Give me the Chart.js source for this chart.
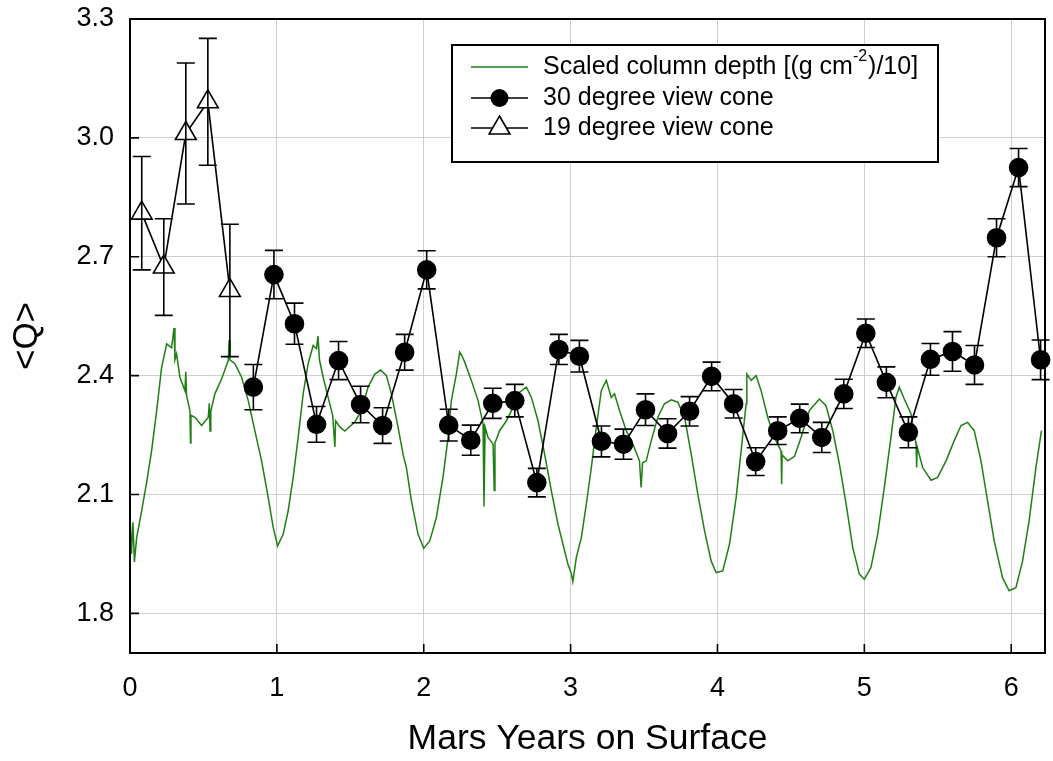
<!DOCTYPE html>
<html>
<head>
<meta charset="utf-8">
<script src="https://cdn.jsdelivr.net/npm/chart.js@4.4.1/dist/chart.umd.min.js"></script>
<style>
html, body { margin: 0; padding: 0; background: #fff; }
#wrap { width: 1053px; height: 761px; position: relative; }
</style>
</head>
<body>
<div id="wrap"><canvas id="chart-q"></canvas></div>
<script>
var yearTicks = [0, 1, 2, 3, 4, 5, 6];
var qTicks = [1.8, 2.1, 2.4, 2.7, 3.0, 3.3];

// 19 degree view cone (triangles)
var cone19Year = [0.08, 0.23, 0.38, 0.53, 0.68];
var cone19Q = [2.810, 2.674, 3.011, 3.091, 2.615];
var cone19Err = [0.143, 0.122, 0.178, 0.160, 0.167];

// 30 degree view cone (circles)
var cone30Year = [0.84, 0.98, 1.12, 1.27, 1.42, 1.57, 1.72, 1.87, 2.02, 2.17, 2.32, 2.47, 2.62,
    2.77, 2.92, 3.06, 3.21, 3.36, 3.51, 3.66, 3.81, 3.96, 4.11, 4.26, 4.41, 4.56, 4.71, 4.86,
    5.01, 5.15, 5.30, 5.45, 5.60, 5.75, 5.90, 6.05, 6.20];
var cone30Q = [2.371, 2.655, 2.531, 2.277, 2.438, 2.327, 2.274, 2.459, 2.667, 2.275, 2.237, 2.330, 2.337,
    2.130, 2.466, 2.449, 2.234, 2.227, 2.314, 2.254, 2.310, 2.398, 2.329, 2.183, 2.261, 2.292, 2.244, 2.354,
    2.507, 2.383, 2.257, 2.441, 2.461, 2.427, 2.748, 2.925, 2.440];
var cone30Err = [0.057, 0.061, 0.052, 0.045, 0.048, 0.046, 0.045, 0.045, 0.048, 0.040, 0.038, 0.038, 0.041,
    0.036, 0.038, 0.040, 0.039, 0.038, 0.040, 0.037, 0.037, 0.036, 0.036, 0.035, 0.035, 0.036, 0.038, 0.037,
    0.036, 0.039, 0.039, 0.040, 0.050, 0.049, 0.048, 0.048, 0.050];

// scaled column depth (green trace)
var depthYear = [0.000, 0.010, 0.020, 0.030, 0.045, 0.080, 0.113, 0.147, 0.181, 0.215, 0.250, 0.283, 0.300, 0.306,
    0.317, 0.340, 0.374, 0.380, 0.385, 0.408, 0.412, 0.415, 0.442, 0.488, 0.533, 0.540, 0.545, 0.550, 0.578,
    0.624, 0.669, 0.675, 0.680, 0.714, 0.760, 0.805, 0.850, 0.896, 0.941, 0.975, 1.005, 1.043, 1.077, 1.111,
    1.145, 1.179, 1.213, 1.247, 1.270, 1.280, 1.290, 1.315, 1.349, 1.380, 1.395, 1.400, 1.430, 1.463, 1.531,
    1.576, 1.621, 1.667, 1.707, 1.746, 1.780, 1.825, 1.860, 1.882, 1.916, 1.961, 2.000, 2.041, 2.086, 2.131,
    2.166, 2.188, 2.222, 2.245, 2.260, 2.279, 2.324, 2.370, 2.404, 2.410, 2.418, 2.438, 2.472, 2.480, 2.485,
    2.517, 2.563, 2.608, 2.653, 2.699, 2.733, 2.778, 2.823, 2.869, 2.914, 2.959, 2.982, 3.005, 3.015, 3.039,
    3.073, 3.107, 3.141, 3.175, 3.209, 3.243, 3.277, 3.299, 3.333, 3.379, 3.424, 3.469, 3.480, 3.490, 3.515,
    3.549, 3.594, 3.639, 3.685, 3.730, 3.776, 3.821, 3.866, 3.912, 3.957, 3.991, 4.036, 4.082, 4.127, 4.161,
    4.195, 4.200, 4.229, 4.263, 4.297, 4.342, 4.388, 4.433, 4.437, 4.440, 4.478, 4.524, 4.569, 4.626, 4.694,
    4.739, 4.785, 4.830, 4.876, 4.921, 4.966, 5.000, 5.045, 5.091, 5.136, 5.181, 5.215, 5.238, 5.272, 5.318,
    5.352, 5.356, 5.360, 5.397, 5.454, 5.499, 5.556, 5.612, 5.658, 5.703, 5.748, 5.794, 5.839, 5.884, 5.941,
    5.986, 6.032, 6.077, 6.122, 6.168, 6.206];
var depthQ = [2.050, 1.950, 2.030, 1.930, 1.990, 2.060, 2.130, 2.210, 2.310, 2.420, 2.480, 2.470, 2.520, 2.440,
    2.455, 2.396, 2.362, 2.410, 2.350, 2.312, 2.230, 2.300, 2.295, 2.274, 2.295, 2.330, 2.260, 2.310, 2.354,
    2.392, 2.438, 2.490, 2.440, 2.430, 2.396, 2.337, 2.261, 2.185, 2.092, 2.017, 1.970, 2.000, 2.059, 2.143,
    2.244, 2.354, 2.430, 2.476, 2.468, 2.500, 2.440, 2.396, 2.345, 2.300, 2.220, 2.286, 2.270, 2.260, 2.283,
    2.312, 2.371, 2.404, 2.414, 2.400, 2.354, 2.270, 2.200, 2.168, 2.084, 2.000, 1.964, 1.983, 2.042, 2.143,
    2.244, 2.337, 2.404, 2.459, 2.450, 2.434, 2.388, 2.337, 2.278, 2.070, 2.270, 2.244, 2.227, 2.110, 2.230,
    2.261, 2.286, 2.320, 2.358, 2.371, 2.345, 2.286, 2.202, 2.109, 2.025, 1.958, 1.924, 1.900, 1.880, 1.941,
    1.991, 2.076, 2.168, 2.270, 2.362, 2.388, 2.345, 2.354, 2.312, 2.261, 2.227, 2.185, 2.118, 2.180, 2.185,
    2.236, 2.295, 2.329, 2.339, 2.333, 2.295, 2.202, 2.101, 2.008, 1.932, 1.903, 1.907, 1.975, 2.092, 2.210,
    2.329, 2.404, 2.388, 2.400, 2.362, 2.295, 2.244, 2.210, 2.126, 2.200, 2.185, 2.196, 2.244, 2.312, 2.341,
    2.324, 2.261, 2.177, 2.076, 1.966, 1.899, 1.886, 1.916, 2.000, 2.118, 2.244, 2.345, 2.371, 2.341, 2.303,
    2.227, 2.168, 2.220, 2.168, 2.136, 2.143, 2.185, 2.236, 2.274, 2.282, 2.261, 2.185, 2.084, 1.983, 1.890,
    1.857, 1.865, 1.932, 2.034, 2.168, 2.261];

var fontFamily = '"Liberation Sans", Arial, Helvetica, sans-serif';

function points(xs, ys) {
    var out = [];
    for (var i = 0; i < xs.length; i++) out.push({x: xs[i], y: ys[i]});
    return out;
}

// vertical error bars with caps, drawn through the chart scales
var errorBars = {
    id: 'errorBars',
    afterDatasetsDraw: function(chart) {
        var ctx = chart.ctx, sx = chart.scales.x, sy = chart.scales.y;
        chart.data.datasets.forEach(function(ds) {
            if (!ds.errors) return;
            ctx.save();
            ctx.strokeStyle = '#000';
            ctx.lineWidth = 1.6;
            ds.data.forEach(function(p, j) {
                var px = sx.getPixelForValue(p.x);
                var lo = sy.getPixelForValue(p.y - ds.errors[j]);
                var hi = sy.getPixelForValue(p.y + ds.errors[j]);
                ctx.beginPath();
                ctx.moveTo(px, lo); ctx.lineTo(px, hi);
                ctx.moveTo(px - 9, lo); ctx.lineTo(px + 9, lo);
                ctx.moveTo(px - 9, hi); ctx.lineTo(px + 9, hi);
                ctx.stroke();
            });
            ctx.restore();
        });
    }
};

// box frame and inward tick marks
var frame = {
    id: 'frame',
    afterDraw: function(chart) {
        var ctx = chart.ctx, a = chart.chartArea;
        ctx.save();
        ctx.strokeStyle = '#000';
        ctx.lineWidth = 1.6;
        ctx.beginPath();
        chart.scales.y.ticks.forEach(function(t) {
            var py = chart.scales.y.getPixelForValue(t.value);
            ctx.moveTo(a.left, py); ctx.lineTo(a.left + 9, py);
        });
        chart.scales.x.ticks.forEach(function(t) {
            var px = chart.scales.x.getPixelForValue(t.value);
            ctx.moveTo(px, a.bottom); ctx.lineTo(px, a.bottom - 9);
        });
        ctx.stroke();
        ctx.lineWidth = 2;
        ctx.strokeRect(a.left, a.top, a.right - a.left, a.bottom - a.top);
        ctx.restore();
    }
};

// boxed legend inside the plot
var boxLegend = {
    id: 'boxLegend',
    afterDraw: function(chart) {
        var ctx = chart.ctx;
        var left = 452, top = 45, right = 938, bottom = 162;
        var rows = [67, 98, 128];
        ctx.save();
        ctx.fillStyle = '#fff';
        ctx.fillRect(left, top, right - left, bottom - top);
        ctx.strokeStyle = '#000';
        ctx.lineWidth = 2;
        ctx.strokeRect(left, top, right - left, bottom - top);
        ctx.textBaseline = 'middle';
        ctx.textAlign = 'left';
        chart.data.datasets.forEach(function(ds, i) {
            var y = rows[i];
            ctx.strokeStyle = ds.borderColor;
            ctx.lineWidth = ds.borderWidth;
            ctx.beginPath(); ctx.moveTo(471, y); ctx.lineTo(528, y); ctx.stroke();
            if (ds.pointStyle === 'circle') {
                ctx.fillStyle = '#000';
                ctx.beginPath(); ctx.arc(499.5, y, ds.pointRadius, 0, Math.PI * 2); ctx.fill();
            } else if (ds.pointStyle === 'triangle') {
                var r = ds.pointRadius;
                ctx.fillStyle = '#fff';
                ctx.strokeStyle = '#000';
                ctx.lineWidth = 1.6;
                ctx.beginPath();
                ctx.moveTo(499.5, y - r);
                ctx.lineTo(499.5 + r * 0.866, y + r / 2);
                ctx.lineTo(499.5 - r * 0.866, y + r / 2);
                ctx.closePath(); ctx.fill(); ctx.stroke();
            }
            ctx.fillStyle = '#000';
            var x = 543;
            var parts = ds.labelParts || [ds.label];
            parts.forEach(function(part, k) {
                var sup = ds.labelParts && k === 1;
                ctx.font = (sup ? 16 : 25) + 'px ' + fontFamily;
                ctx.fillText(part, x, sup ? y - 10 : y);
                x += ctx.measureText(part).width + (sup ? 1 : 0);
            });
        });
        ctx.restore();
    }
};

new Chart(document.getElementById('chart-q'), {
    type: 'line',
    data: {
        datasets: [
            {
                label: 'Scaled column depth [(g cm-2)/10]',
                labelParts: ['Scaled column depth [(g cm', '-2', ')/10]'],
                data: points(depthYear, depthQ),
                borderColor: '#1f7f14',
                borderWidth: 1.5,
                pointRadius: 0,
                fill: false,
                order: 3
            },
            {
                label: '30 degree view cone',
                data: points(cone30Year, cone30Q),
                errors: cone30Err,
                borderColor: '#000',
                borderWidth: 1.6,
                pointStyle: 'circle',
                pointRadius: 9,
                pointBackgroundColor: '#000',
                pointBorderColor: '#000',
                fill: false,
                clip: false,
                order: 1
            },
            {
                label: '19 degree view cone',
                data: points(cone19Year, cone19Q),
                errors: cone19Err,
                borderColor: '#000',
                borderWidth: 1.6,
                pointStyle: 'triangle',
                pointRadius: 12,
                pointBackgroundColor: '#fff',
                pointBorderColor: '#000',
                pointBorderWidth: 1.6,
                fill: false,
                order: 2
            }
        ]
    },
    options: {
        responsive: true,
        maintainAspectRatio: false,
        animation: false,
        lineTension: 0,
        layout: { autoPadding: false, padding: { top: 19, right: 8, left: 0, bottom: 0 } },
        plugins: { legend: { display: false }, tooltip: { enabled: false } },
        scales: {
            x: {
                type: 'linear',
                min: 0,
                max: 6.23,
                afterBuildTicks: function(s) { s.ticks = yearTicks.map(function(v) { return {value: v}; }); },
                afterFit: function(s) { s.height = 108; s.paddingLeft = 0; s.paddingRight = 0; },
                ticks: {
                    callback: function(v) { return String(v); },
                    font: { size: 27, family: fontFamily },
                    color: '#000',
                    padding: 19,
                    maxRotation: 0
                },
                grid: { color: '#cfcfcf', lineWidth: 1, drawTicks: false },
                border: { display: false },
                title: {
                    display: true,
                    text: 'Mars Years on Surface',
                    font: { size: 35.5, family: fontFamily },
                    color: '#000',
                    padding: { top: 0, bottom: 0 }
                }
            },
            y: {
                type: 'linear',
                min: 1.7,
                max: 3.3,
                afterBuildTicks: function(s) { s.ticks = qTicks.map(function(v) { return {value: v}; }); },
                afterFit: function(s) { s.width = 130; s.paddingTop = 0; s.paddingBottom = 0; },
                ticks: {
                    callback: function(v) { return v.toFixed(1); },
                    font: { size: 27, family: fontFamily },
                    color: '#000',
                    padding: 16
                },
                grid: { color: '#cfcfcf', lineWidth: 1, drawTicks: false },
                border: { display: false },
                title: {
                    display: true,
                    text: '<Q>',
                    font: { size: 35, family: fontFamily },
                    color: '#000',
                    padding: { top: 6, bottom: 0 }
                }
            }
        }
    },
    plugins: [errorBars, frame, boxLegend]
});
</script>
</body>
</html>
